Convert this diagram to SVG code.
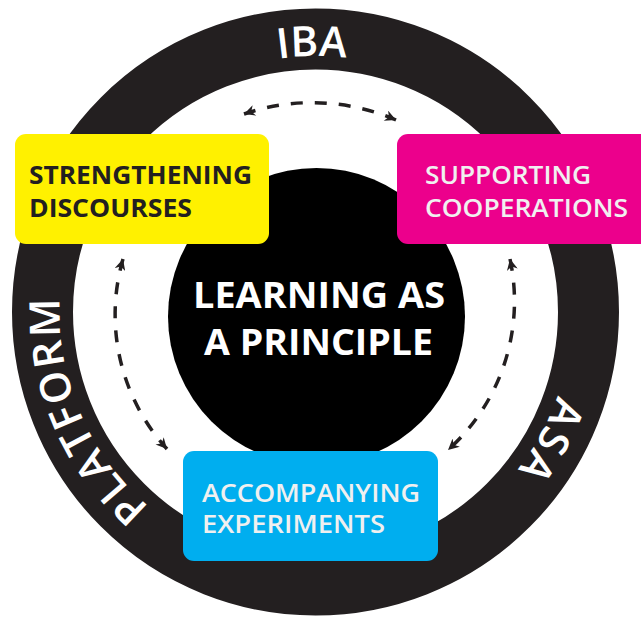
<svg xmlns="http://www.w3.org/2000/svg" width="641" height="617" viewBox="0 0 641 617">
  <style>
    .ring { fill: #ffffff; stroke: #231f20; stroke-width: 61; }
    .ringtext { font-family: "Open Sans", "Noto Sans", sans-serif; font-weight: 600; font-size: 42px; fill: #ffffff; }
    .center { font-family: "Open Sans", "Noto Sans", sans-serif; font-weight: 700; font-size: 36px; fill: #ffffff; }
    .lbl { font-family: "Open Sans", "Noto Sans", sans-serif; font-size: 24.5px; }
    .dark { fill: #231f20; font-weight: 700; }
    .light { fill: #f0f0f0; font-weight: 600; }
    .conn { fill: none; stroke: #231f20; stroke-width: 3.5; stroke-dasharray: 12 12; }
  </style>
  <defs>
    <marker id="arrow" viewBox="0 0 10 10" refX="10" refY="5" markerWidth="12" markerHeight="11" markerUnits="userSpaceOnUse" orient="auto-start-reverse">
      <path d="M0,0 L10,5 L0,10 L3,5 Z" fill="#231f20"/>
    </marker>
    <path id="ringPath" d="M 315.5,568 A 256 256 0 1 1 315.5,56 A 256 256 0 1 1 315.5,568"/>
  </defs>

  <g id="ring">
    <circle class="ring" cx="315.5" cy="312" r="273"/>
    <text class="ringtext" text-anchor="middle"><textPath href="#ringPath" startOffset="49.8%">IBA</textPath></text>
    <text class="ringtext" text-anchor="middle" letter-spacing="2"><textPath href="#ringPath" startOffset="18.6%">PLATFORM</textPath></text>
    <text class="ringtext" text-anchor="middle" letter-spacing="3"><textPath href="#ringPath" startOffset="83.0%">ASA</textPath></text>
  </g>

  <g id="center">
    <circle cx="316.5" cy="316.5" r="148.5" fill="#000000"/>
    <text class="center" x="319" y="308" text-anchor="middle" textLength="252" lengthAdjust="spacingAndGlyphs">LEARNING AS</text>
    <text class="center" x="318.5" y="355" text-anchor="middle" textLength="229" lengthAdjust="spacingAndGlyphs">A PRINCIPLE</text>
  </g>

  <g id="connectors">
    <path class="conn" d="M 244,114 A 211 211 0 0 1 396,120" marker-start="url(#arrow)" marker-end="url(#arrow)"/>
    <path class="conn" d="M 123,259 A 200 200 0 0 0 167,449" marker-start="url(#arrow)" marker-end="url(#arrow)"/>
    <path class="conn" d="M 510,259 A 200 200 0 0 1 448,450" marker-start="url(#arrow)" marker-end="url(#arrow)"/>
  </g>

  <g id="strengthening">
    <rect x="15" y="134" width="254" height="110" rx="11" fill="#fff100"/>
    <text class="lbl dark" x="29" y="184" textLength="223" lengthAdjust="spacingAndGlyphs">STRENGTHENING</text>
    <text class="lbl dark" x="29" y="217" textLength="163" lengthAdjust="spacingAndGlyphs">DISCOURSES</text>
  </g>

  <g id="supporting">
    <rect x="397" y="134" width="260" height="110" rx="11" fill="#ec008c"/>
    <text class="lbl light" x="425" y="184" textLength="166" lengthAdjust="spacingAndGlyphs">SUPPORTING</text>
    <text class="lbl light" x="425" y="217" textLength="203" lengthAdjust="spacingAndGlyphs">COOPERATIONS</text>
  </g>

  <g id="accompanying">
    <rect x="183" y="451" width="255" height="110" rx="11" fill="#00aeef"/>
    <text class="lbl light" x="202" y="502" textLength="218" lengthAdjust="spacingAndGlyphs">ACCOMPANYING</text>
    <text class="lbl light" x="202" y="533" textLength="183" lengthAdjust="spacingAndGlyphs">EXPERIMENTS</text>
  </g>
</svg>
